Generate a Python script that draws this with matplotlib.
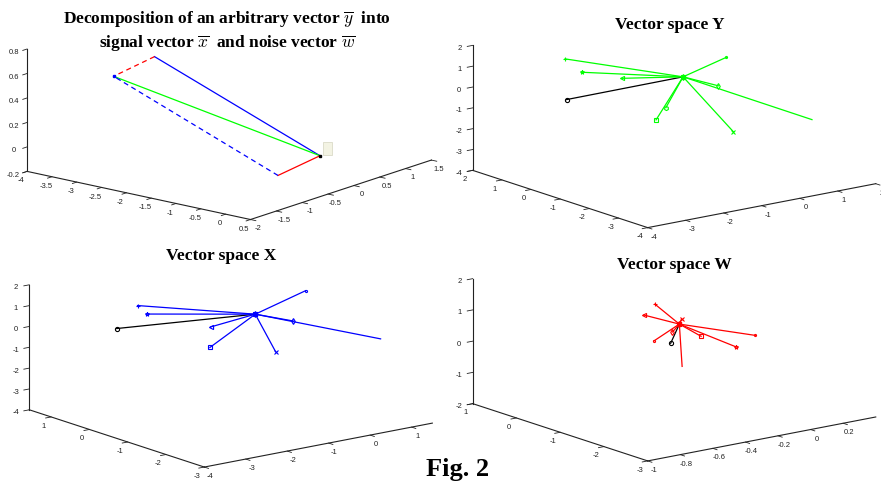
import matplotlib.pyplot as plt
import numpy as np
from matplotlib.patches import Rectangle

plt.rcParams['axes.unicode_minus'] = False
plt.rcParams['mathtext.fontset'] = 'cm'
plt.rcParams['font.family'] = ['Liberation Sans', 'DejaVu Sans']

# --- panel 1: decomposition of y into signal x and noise w (common start point)
base_pt = [-0.11, -0.07, 0.0]
sig_end = [-2.62, -0.86, 0.70]
noise_end = [-0.57, -0.44, -0.15]
obs_end = [-3.07, -1.22, 0.55]

# --- vector spaces: end points (x, y, z) of each vector from the origin
y_marks = ['+', '*', '<', '.', 'd', 'h', 's', 'x', 'None']
y_ends = [(-2.10, 1.31, 1.0), (-1.97, 0.90, 0.5), (-1.09, 0.68, 0.0),
          (1.71, 0.74, 0.0), (0.13, -1.04, 0.0), (-1.31, -1.12, -0.5),
          (-1.57, -1.12, -1.0), (-0.36, -2.19, -1.5), (1.55, -2.40, -1.5)]
y_ref = (-3.08, -0.02, 0.0)

x_marks = ['+', '*', '<', 's', '.', 'd', 'x', 'None']
x_ends = [(-1.87, 1.05, 0.5), (-1.63, 1.05, 0.0), (-1.27, -0.21, 0.0),
          (-1.75, -0.71, -0.5), (1.37, 0.17, 0.5), (0.26, -0.71, 0.0),
          (-0.95, -1.56, -0.5), (1.24, -1.93, -0.5)]
x_ref = (-2.77, 0.62, 0.0)

w_marks = ['+', '<', '.', '*', '.', 'd', 's', 'None', 'x']
w_ends = [(0.03, 0.67, 0.3), (-0.03, 0.70, 0.0), (0.16, -1.14, 0.0),
          (-0.05, -1.48, 0.0), (-0.30, -0.53, 0.0), (-0.12, -0.29, 0.0),
          (-0.06, -0.72, 0.0), (-0.12, -0.51, -1.0), (0.07, 0.21, 0.0)]
w_ref = (-0.26, -0.77, 0.0)

ZOOM = 1.3
AX_W, AX_H = 0.422, 0.3865


def labels(ticks):
    return [f'{t:g}' if abs(t) > 1e-9 else '0' for t in ticks]


def setup(rect, xlim, ylim, zlim, xt, yt, zt, azim, elev):
    ax = fig.add_axes(rect, projection='3d')
    ax.set_proj_type('ortho')
    ax.view_init(elev=elev, azim=azim)
    ax.set_xlim(*xlim)
    ax.set_ylim(*ylim)
    ax.set_zlim(*zlim)
    ax.set_box_aspect((1, 1, 1), zoom=ZOOM)
    # stretch to fill the panel like matlab does
    ax.apply_aspect = lambda position=None: None
    ax.patch.set_alpha(0)
    ax.grid(False)
    ax.set_xticks(xt)
    ax.set_xticklabels(labels(xt))
    ax.set_yticks(yt)
    ax.set_yticklabels(labels(yt))
    ax.set_zticks(zt)
    ax.set_zticklabels(labels(zt))
    for axis in (ax.xaxis, ax.yaxis, ax.zaxis):
        axis.pane.fill = False
        axis.pane.set_edgecolor('none')
        axis.line.set_color('#222222')
        axis.line.set_linewidth(0.8)
        axis._axinfo['tick']['inward_factor'] = 0.3
        axis._axinfo['tick']['outward_factor'] = 0.0
        axis._axinfo['tick']['linewidth'] = {True: 0.6, False: 0.4}
        axis.set_tick_params(labelsize=5.5, pad=-4.5, colors='#222222')
    return ax


def vectors(ax, ends, marks, color, ref):
    ax.plot([0, ref[0]], [0, ref[1]], [0, ref[2]], color='black', lw=0.9,
            marker='o', markevery=[1], ms=3, mfc='none', mew=0.8)
    for (x, y, z), m in zip(ends, marks):
        ax.plot([0, x], [0, y], [0, z], color=color, lw=0.9,
                marker=m, ms=3, mfc='none', mew=0.8)


def seg(ax, p, q, **kw):
    ax.plot([p[0], q[0]], [p[1], q[1]], [p[2], q[2]], lw=0.9, **kw)


fig = plt.figure(figsize=(8.81, 4.83), dpi=100)

# top left: decomposition
ax1 = setup([0.0435, 0.5851, AX_W, AX_H], (-4, 0.5), (-2, 1.5), (-0.2, 0.8),
            np.arange(-4, 0.51, 0.5), np.arange(-2, 1.51, 0.5),
            [-0.2, 0, 0.2, 0.4, 0.6, 0.8], -51, 32)
ax1.zaxis.set_ticks_position('lower')
seg(ax1, base_pt, sig_end, color='blue')
seg(ax1, base_pt, obs_end, color='#00ff00')
seg(ax1, base_pt, noise_end, color='red')
seg(ax1, sig_end, obs_end, color='red', dashes=(4, 3))
seg(ax1, noise_end, obs_end, color='blue', dashes=(4, 3))
ax1.plot([obs_end[0]], [obs_end[1]], [obs_end[2]], 's', color='blue', ms=2)
ax1.plot([base_pt[0]], [base_pt[1]], [base_pt[2]], 's', color='black', ms=2)

# top right: vector space Y
ax2 = setup([0.5486, 0.5644, AX_W, AX_H], (-4, 2), (-4, 2), (-4, 2),
            np.arange(-4, 3), np.arange(-4, 3), np.arange(-4, 3), -127.5, 30)
vectors(ax2, y_ends, y_marks, '#00ff00', y_ref)

# bottom left: vector space X
ax3 = setup([0.0453, 0.0687, AX_W, AX_H], (-4, 1.5), (-3, 1.57), (-4, 2),
            np.arange(-4, 2), np.arange(-3, 2), np.arange(-4, 3), -127.5, 30)
vectors(ax3, x_ends, x_marks, 'blue', x_ref)

# bottom right: vector space W
ax4 = setup([0.5486, 0.0814, AX_W, AX_H], (-1, 0.4), (-3, 1), (-2, 2),
            [-1, -0.8, -0.6, -0.4, -0.2, 0, 0.2], np.arange(-3, 2), np.arange(-2, 3),
            -127.5, 30)
vectors(ax4, w_ends, w_marks, 'red', w_ref)

serif = dict(family='Liberation Serif', weight='bold', ha='center', va='center')
fig.text(0.258, 0.958, r'Decomposition of an arbitrary vector $\overline{y}$  into',
         fontsize=12.5, **serif)
fig.text(0.258, 0.910, r'signal vector $\overline{x}$  and noise vector $\overline{w}$',
         fontsize=12.5, **serif)
fig.text(0.7605, 0.948, 'Vector space Y', fontsize=12.5, **serif)
fig.text(0.2509, 0.470, 'Vector space X', fontsize=12.5, **serif)
fig.text(0.765, 0.4513, 'Vector space W', fontsize=12.5, **serif)
fig.text(0.519, 0.027, 'Fig. 2', fontsize=19, **serif)

# small data tip box near the start point of the first panel
fig.add_artist(Rectangle((323 / 881, 1 - 155 / 483), 9 / 881, 13 / 483,
                         transform=fig.transFigure, facecolor='#f3f3e3',
                         edgecolor='#d5d5c0', lw=0.5))

plt.savefig('out.png', dpi=100)
